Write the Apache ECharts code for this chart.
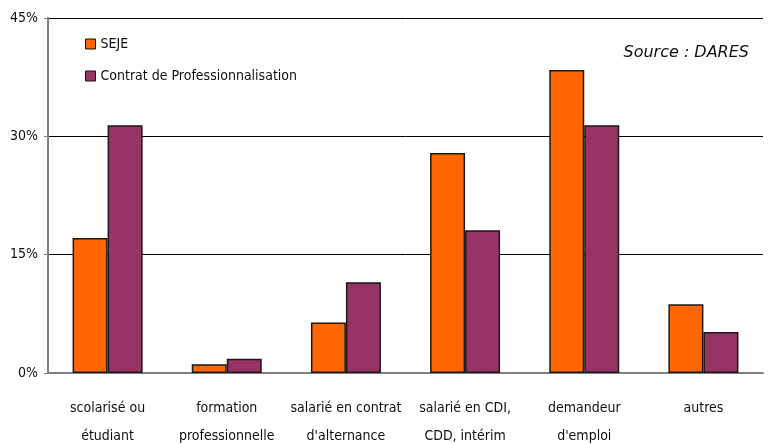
<!DOCTYPE html>
<html>
<head>
<meta charset="utf-8">
<script src="https://cdn.jsdelivr.net/npm/echarts@6/dist/echarts.min.js"></script>
<style>
html, body { margin: 0; padding: 0; background: #fff; }
#chart { width: 769px; height: 444px; }
</style>
</head>
<body>
<div id="chart"></div>
<script>
// situation avant l'entrée en contrat
const categories = [
    'scolarisé ou\nétudiant',
    'formation\nprofessionnelle',
    'salarié en contrat\nd\'alternance',
    'salarié en CDI,\nCDD, intérim',
    'demandeur\nd\'emploi',
    'autres'
]
const seje = [17.1, 1.1, 6.4, 27.9, 38.4, 8.7]
const contratPro = [31.4, 1.8, 11.5, 18.1, 31.4, 5.2]
const yTicks = [0, 15, 30, 45]

const FONT = '"DejaVu Sans Condensed", "DejaVu Sans", sans-serif'
const chart = echarts.init(document.getElementById('chart'), null, { renderer: 'canvas' })

const barStyle = (color) => ({
    color: color,
    borderColor: '#1a1a1a',
    borderWidth: 1.5
})

const option = {
    animation: false,
    backgroundColor: '#ffffff',
    grid: { left: 48, right: 6, top: 18, bottom: 71, containLabel: false, outerBoundsMode: 'none' },
    legend: {
        orient: 'vertical',
        left: 85,
        top: 37,
        padding: 0,
        itemWidth: 10,
        itemHeight: 10,
        itemGap: 18,
        icon: 'rect',
        textStyle: { fontFamily: FONT, fontSize: 14, color: '#111' },
        itemStyle: { borderColor: '#111', borderWidth: 1 }
    },
    graphic: [{
        type: 'text',
        right: 20,
        top: 45,
        style: {
            text: 'Source : DARES',
            fontFamily: 'DejaVu Sans',
            fontStyle: 'italic',
            fontSize: 16,
            fill: '#111'
        }
    }],
    xAxis: {
        type: 'category',
        data: categories,
        axisLine: { lineStyle: { color: '#808080', width: 2 } },
        axisTick: { show: false },
        axisLabel: {
            interval: 0,
            margin: 21,
            lineHeight: 28,
            fontFamily: FONT,
            fontSize: 14,
            color: '#111'
        }
    },
    yAxis: {
        type: 'value',
        min: 0,
        max: 45,
        interval: 15,
        axisLine: { show: true, lineStyle: { color: '#808080', width: 2 } },
        axisTick: { show: true, length: 4, lineStyle: { color: '#808080' } },
        axisLabel: {
            margin: 10,
            fontFamily: FONT,
            fontSize: 14,
            color: '#111',
            formatter: (v) => yTicks.indexOf(v) >= 0 ? v + '%' : ''
        },
        splitLine: { lineStyle: { color: '#000', width: 1 } }
    },
    series: [
        {
            name: 'SEJE',
            type: 'bar',
            data: seje,
            barWidth: 35,
            barGap: '0%',
            itemStyle: barStyle('#ff6600')
        },
        {
            name: 'Contrat de Professionnalisation',
            type: 'bar',
            data: contratPro,
            barWidth: 35,
            barGap: '0%',
            itemStyle: barStyle('#993366')
        }
    ]
}
chart.setOption(option)
</script>
</body>
</html>
